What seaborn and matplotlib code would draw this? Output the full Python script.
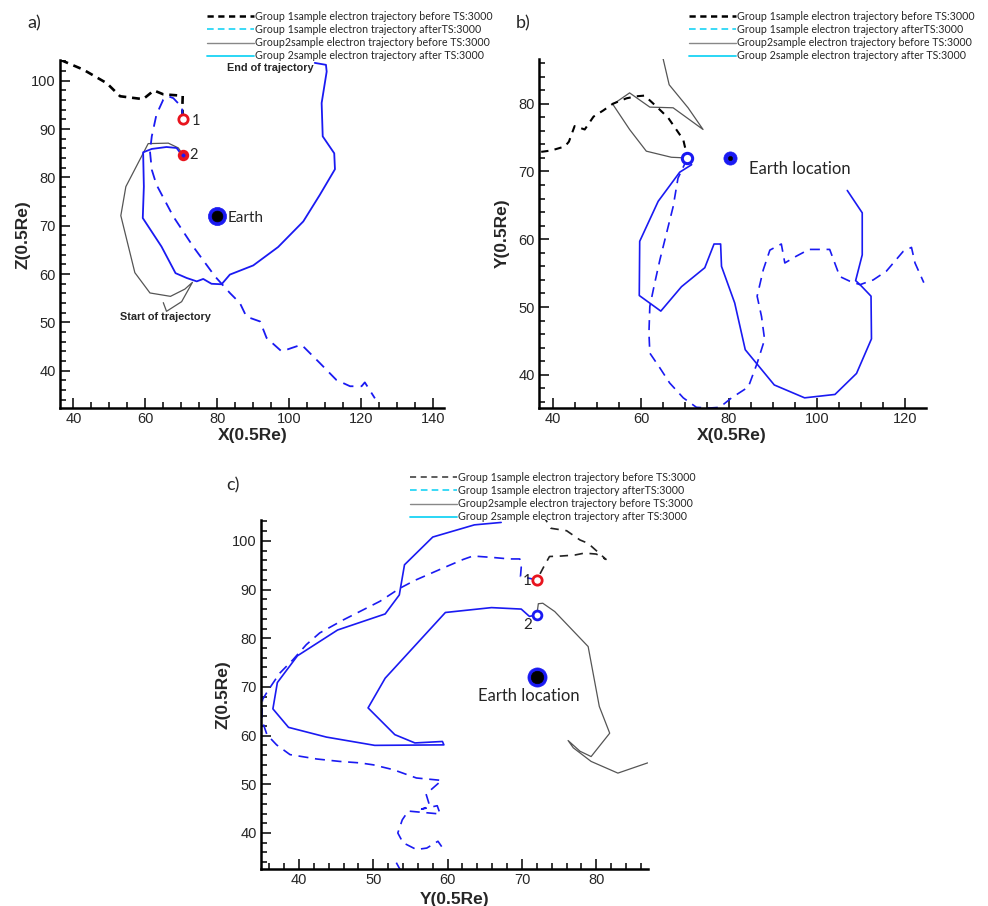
import numpy as np
import pandas as pd
import matplotlib
matplotlib.use("Agg")
import matplotlib.pyplot as plt
import seaborn as sns
from matplotlib.lines import Line2D
from matplotlib.ticker import MultipleLocator

sns.set_style("ticks")
plt.rcParams['font.family'] = ['Liberation Sans', 'DejaVu Sans']

# ---------------- Panel a: X vs Z ----------------
a_g1_before_x = [36.5, 42.8, 49.3, 53.0, 59.4, 62.4, 65.0, 70.4, 70.3, 70.4]
a_g1_before_y = [104.3, 102.3, 99.5, 96.8, 96.2, 98.0, 97.2, 96.9, 94.7, 92.0]
a_g1_after_x = [70.4, 70.2, 67.8, 66.4, 65.0, 63.1, 61.8, 61.3, 61.8, 63.1, 67.8, 73.3, 79.4, 83.5,
                86.3, 88.1, 91.9, 93.7, 97.9, 100.6, 103.4, 108.5, 113.1, 116.9, 120.1, 121.0, 123.8]
a_g1_after_y = [92.0, 94.5, 96.4, 96.8, 96.1, 93.0, 88.5, 85.4, 81.6, 78.5, 71.9, 65.7, 59.5, 56.1,
                54.0, 51.2, 50.2, 46.8, 44.0, 44.7, 45.4, 41.6, 38.1, 36.8, 36.8, 37.6, 34.3]
a_g2_before_x = [65.0, 65.9, 70.1, 73.1, 71.0, 67.0, 61.3, 57.1, 53.2, 54.6, 60.8, 66.4, 69.2, 70.4]
a_g2_before_y = [54.1, 52.3, 54.3, 58.3, 56.9, 55.4, 56.1, 60.3, 72.1, 78.1, 87.0, 87.1, 86.1, 84.7]
a_g2_after_x = [70.1, 68.7, 65.9, 61.8, 59.4, 59.6, 59.3, 64.5, 68.4, 71.5, 74.3, 76.1, 78.4, 81.2,
                83.5, 90.0, 96.9, 103.9, 108.5, 112.7, 112.5, 109.3, 109.0, 110.4, 110.2, 107.1]
a_g2_after_y = [84.7, 86.1, 86.3, 85.9, 85.2, 78.1, 71.6, 65.7, 60.2, 59.2, 58.5, 59.0, 58.0, 57.9,
                59.9, 61.8, 65.6, 70.9, 76.4, 81.7, 85.0, 88.5, 95.4, 101.9, 103.3, 103.7]
a_p1 = (70.4, 92.0)
a_p2 = (70.4, 84.7)
a_earth = (80.0, 72.0)

# ---------------- Panel b: X vs Y ----------------
b_g1_before_x = [37.3, 39.6, 42.7, 43.6, 44.9, 47.2, 49.2, 51.4, 53.6, 56.7, 59.0, 60.8, 63.5, 66.2, 69.6, 70.5]
b_g1_before_y = [72.9, 73.1, 73.7, 74.4, 76.7, 76.2, 78.1, 79.0, 80.0, 80.8, 81.1, 81.2, 79.6, 77.9, 74.7, 72.2]
b_g1_after_x = [70.5, 68.4, 67.3, 65.8, 64.3, 63.1, 62.0, 61.8, 62.0, 64.3, 66.5, 69.6, 72.6, 75.6, 77.9,
                80.6, 84.4, 86.4, 88.1, 87.4, 86.4, 87.8, 89.3, 91.9, 92.7, 95.3, 98.2, 102.9, 105.2,
                107.5, 109.8, 112.8, 115.8, 119.6, 121.5, 122.3, 124.3]
b_g1_after_y = [71.9, 69.0, 64.8, 60.9, 57.0, 53.5, 50.1, 46.2, 43.2, 41.0, 38.8, 36.6, 35.2, 35.1, 35.2,
                36.6, 38.2, 41.7, 45.2, 48.6, 51.6, 55.5, 58.4, 59.3, 56.5, 57.5, 58.5, 58.5, 54.5,
                53.8, 53.3, 54.0, 55.3, 58.2, 58.8, 56.5, 53.6]
b_g2_before_x = [65.0, 66.4, 70.7, 74.1, 67.3, 62.0, 57.4, 53.6, 57.4, 61.2, 66.9, 70.3]
b_g2_before_y = [86.7, 82.8, 79.4, 76.2, 79.4, 79.5, 81.6, 79.9, 76.2, 73.0, 72.1, 72.0]
b_g2_after_x = [70.5, 71.5, 68.8, 63.9, 59.7, 59.6, 64.5, 69.2, 74.5, 76.6, 78.1, 78.3, 81.3, 83.7,
                90.3, 97.2, 104.1, 109.0, 112.4, 112.3, 109.8, 108.8, 110.3, 110.3, 106.9]
b_g2_after_y = [71.9, 71.0, 69.9, 65.6, 59.7, 51.7, 49.4, 53.0, 55.8, 59.3, 59.3, 56.0, 50.6, 43.7,
                38.5, 36.6, 37.1, 40.2, 45.3, 51.6, 53.3, 53.9, 57.7, 63.9, 67.2]
b_p = (70.5, 72.0)
b_earth = (80.2, 72.0)

# ---------------- Panel c: Y vs Z ----------------
c_g1_before_x = [72.8, 73.9, 76.0, 77.8, 78.9, 80.0, 81.3, 80.0, 78.4, 77.1, 75.3, 73.7, 72.9, 72.0]
c_g1_before_y = [105.3, 102.6, 102.1, 100.2, 99.5, 98.0, 96.2, 97.3, 97.5, 97.1, 96.9, 96.8, 94.6, 92.0]
c_g1_after_x = [72.0, 69.8, 69.9, 69.7, 68.3, 66.1, 63.4, 62.1, 59.8, 55.6, 53.6, 50.9, 49.1, 46.0,
                42.8, 41.0, 39.2, 37.4, 35.9, 35.1, 35.0, 35.7, 37.0, 38.8, 42.4, 45.5, 48.2, 50.0,
                52.7, 55.8, 59.2, 57.1, 57.6, 56.5, 58.6, 59.0, 54.7, 53.9, 53.3, 54.0, 55.8, 57.2,
                58.7, 59.2, 53.1, 53.6]
c_g1_after_y = [92.0, 92.7, 94.6, 96.3, 96.3, 96.6, 96.9, 96.2, 94.7, 91.9, 90.3, 87.6, 86.2, 83.8,
                81.1, 78.7, 75.6, 72.8, 69.4, 67.4, 63.3, 60.2, 58.1, 56.1, 55.2, 54.7, 54.4, 54.0,
                53.0, 51.3, 50.8, 48.0, 45.5, 44.9, 45.6, 43.9, 44.5, 42.7, 40.0, 38.0, 36.6, 36.9,
                38.3, 37.2, 33.9, 32.5]
c_g1_after_seg = [0] * 44 + [1, 1]
c_g2_before_x = [86.9, 82.9, 79.3, 76.9, 76.2, 77.8, 79.3, 81.8, 80.4, 78.9, 74.4, 72.8, 72.2, 72.0]
c_g2_before_y = [54.4, 52.3, 54.7, 57.5, 59.0, 56.8, 55.7, 60.5, 66.0, 78.3, 85.5, 87.2, 87.1, 84.8]
c_g2_after_x = [72.0, 71.0, 69.9, 65.9, 59.7, 51.6, 49.3, 52.9, 55.6, 59.3, 59.5, 50.2, 43.7, 38.6,
                36.5, 37.1, 39.8, 45.2, 51.6, 53.5, 54.2, 58.0, 63.6, 67.2]
c_g2_after_y = [84.8, 84.5, 86.0, 86.3, 85.3, 71.8, 65.7, 60.2, 58.5, 58.8, 58.1, 58.0, 59.7, 61.7,
                65.5, 70.9, 76.4, 81.7, 85.0, 88.9, 95.1, 100.8, 103.3, 103.8]
c_p1 = (72.0, 92.0)
c_p2 = (72.0, 84.8)
c_earth = (72.0, 72.0)

legend_labels = ["Group 1sample electron trajectory before TS:3000",
                 "Group 1sample electron trajectory afterTS:3000",
                 "Group2sample electron trajectory before TS:3000",
                 "Group 2sample electron trajectory after TS:3000"]

BLUE = "#1a1af2"
GRAY = "#555555"

fig = plt.figure(figsize=(9.88, 9.06), dpi=100)
ax_a = fig.add_axes([60/988, 1-408/906, 384/988, 348/906])
ax_b = fig.add_axes([539/988, 1-408/906, 387/988, 349/906])
ax_c = fig.add_axes([261/988, 1-869/906, 387/988, 349/906])


def traj(ax, xs, ys, color, lw, ls, seg=None, z=2):
    df = pd.DataFrame({"x": xs, "y": ys, "seg": seg if seg is not None else [0] * len(xs)})
    sns.lineplot(data=df, x="x", y="y", units="seg", estimator=None, sort=False,
                 color=color, linewidth=lw, linestyle=ls, ax=ax, legend=False, zorder=z)


def point(ax, p, s, face, edge, lw, z=5):
    sns.scatterplot(x=[p[0]], y=[p[1]], s=s, color=face, edgecolor=edge, linewidth=lw,
                    ax=ax, zorder=z, legend=False)


def style(ax, xlim, ylim, xmaj, xmin, ymaj, ymin):
    ax.set_xlim(*xlim)
    ax.set_ylim(*ylim)
    ax.xaxis.set_major_locator(MultipleLocator(xmaj))
    ax.xaxis.set_minor_locator(MultipleLocator(xmin))
    ax.yaxis.set_major_locator(MultipleLocator(ymaj))
    ax.yaxis.set_minor_locator(MultipleLocator(ymin))
    ax.tick_params(which="both", direction="in", width=1.1, color="black", labelsize=10.5, pad=3)
    ax.tick_params(which="major", length=7)
    ax.tick_params(which="minor", length=4)
    for s in ["top", "right"]:
        ax.spines[s].set_visible(False)
    for s in ["left", "bottom"]:
        ax.spines[s].set_linewidth(1.8)
        ax.spines[s].set_color("black")
    ax.set_facecolor("white")
    ax.grid(False)


def legend(handles, x, y):
    fig.legend(handles, legend_labels, loc="upper left", bbox_to_anchor=(x, y),
               bbox_transform=fig.transFigure, frameon=False, handlelength=4.4,
               handletextpad=0.05, labelspacing=0.2, borderpad=0, borderaxespad=0,
               prop={"family": "Lato", "size": 7.7})


def handles(black_lw=1.8):
    return [Line2D([], [], color="black", lw=black_lw, ls=(0, (2.5, 1.8))),
            Line2D([], [], color="#19d3f5", lw=1.2, ls=(0, (4, 2.5))),
            Line2D([], [], color="#888888", lw=1.0, ls="-"),
            Line2D([], [], color="#19d3f5", lw=1.3, ls="-")]

# ---- panel a ----
traj(ax_a, a_g2_before_x, a_g2_before_y, GRAY, 0.9, "-")
traj(ax_a, a_g1_before_x, a_g1_before_y, "black", 1.9, (0, (3, 2.2)))
traj(ax_a, a_g1_after_x, a_g1_after_y, BLUE, 1.3, (0, (6, 4)))
traj(ax_a, a_g2_after_x, a_g2_after_y, BLUE, 1.3, "-")
point(ax_a, a_earth, 170, BLUE, BLUE, 0.5)
point(ax_a, a_earth, 60, "black", "black", 0.5, z=6)
point(ax_a, a_p1, 45, "white", "#e8141e", 2.0)
point(ax_a, a_p2, 45, "#e8141e", "#e8141e", 1.5)
point(ax_a, a_p2, 6, BLUE, BLUE, 0.3, z=6)
style(ax_a, (36.3, 143), (32.3, 104.3), 20, 5, 10, 2)
ax_a.set_xlabel("X(0.5Re)", fontsize=12.5, fontweight="bold")
ax_a.set_ylabel("Z(0.5Re)", fontsize=12.5, fontweight="bold")
ax_a.xaxis.set_label_coords(0.503, -0.058)
ax_a.yaxis.set_label_coords(-0.078, 0.497)
ax_a.text(82.7, 102.6, "End of trajectory", fontsize=7.8, fontweight="bold", ha="left", va="center")
ax_a.text(53.0, 51.2, "Start of trajectory", fontsize=7.8, fontweight="bold", ha="left", va="center")
ax_a.text(83.0, 71.7, "Earth", fontsize=11, family="Lato", ha="left", va="center")
ax_a.text(72.9, 91.6, "1", fontsize=10.5, family="Lato", ha="left", va="center")
ax_a.text(72.3, 84.7, "2", fontsize=10.5, family="Lato", ha="left", va="center")
legend(handles(), 207/988, 1 - 11/906)
fig.text(34/988, 1 - 23/906, "a)", fontsize=13, family="Lato", ha="center", va="center")

# ---- panel b ----
traj(ax_b, b_g2_before_x, b_g2_before_y, GRAY, 0.9, "-")
traj(ax_b, b_g1_before_x, b_g1_before_y, "black", 1.5, (0, (3.5, 3)))
traj(ax_b, b_g1_after_x, b_g1_after_y, BLUE, 1.2, (0, (6, 4)))
traj(ax_b, b_g2_after_x, b_g2_after_y, BLUE, 1.2, "-")
point(ax_b, b_earth, 90, BLUE, BLUE, 0.5)
point(ax_b, b_earth, 10, "black", "black", 0.3, z=6)
point(ax_b, b_p, 55, "white", BLUE, 2.2)
style(ax_b, (36.8, 124.8), (35.1, 86.6), 20, 5, 10, 2)
ax_b.set_xlabel("X(0.5Re)", fontsize=12.5, fontweight="bold")
ax_b.set_ylabel("Y(0.5Re)", fontsize=12.5, fontweight="bold")
ax_b.xaxis.set_label_coords(0.498, -0.058)
ax_b.yaxis.set_label_coords(-0.075, 0.501)
ax_b.text(84.6, 70.3, "Earth location", fontsize=12, family="Lato", ha="left", va="center")
legend(handles(), 689/988, 1 - 11/906)
fig.text(523/988, 1 - 23/906, "b)", fontsize=13, family="Lato", ha="center", va="center")

# ---- panel c ----
traj(ax_c, c_g2_before_x, c_g2_before_y, GRAY, 0.9, "-")
traj(ax_c, c_g1_before_x, c_g1_before_y, "#222222", 1.2, (0, (5, 4)))
traj(ax_c, c_g1_after_x, c_g1_after_y, BLUE, 1.2, (0, (6, 4)), seg=c_g1_after_seg)
traj(ax_c, c_g2_after_x, c_g2_after_y, BLUE, 1.2, "-")
point(ax_c, c_earth, 190, BLUE, BLUE, 0.5)
point(ax_c, c_earth, 80, "black", "black", 0.5, z=6)
point(ax_c, c_p1, 45, "white", "#e8141e", 2.0)
point(ax_c, c_p2, 40, "white", BLUE, 2.0)
style(ax_c, (34.9, 86.95), (32.6, 104.3), 10, 2, 10, 2)
ax_c.set_xlabel("Y(0.5Re)", fontsize=12.5, fontweight="bold")
ax_c.set_ylabel("Z(0.5Re)", fontsize=12.5, fontweight="bold")
ax_c.xaxis.set_label_coords(0.501, -0.065)
ax_c.yaxis.set_label_coords(-0.080, 0.499)
ax_c.text(70.9, 68.2, "Earth location", fontsize=12, family="Lato", ha="center", va="center")
ax_c.text(70.7, 91.8, "1", fontsize=11, family="Lato", ha="center", va="center")
ax_c.text(70.8, 82.8, "2", fontsize=11, family="Lato", ha="center", va="center")
ch = handles(1.2)
ch[0] = Line2D([], [], color="#333333", lw=1.1, ls=(0, (4, 3)))
legend(ch, 410/988, 1 - 472/906)
fig.text(233/988, 1 - 485/906, "c)", fontsize=13, family="Lato", ha="center", va="center")

fig.savefig("out.png", dpi=100, facecolor="white")
